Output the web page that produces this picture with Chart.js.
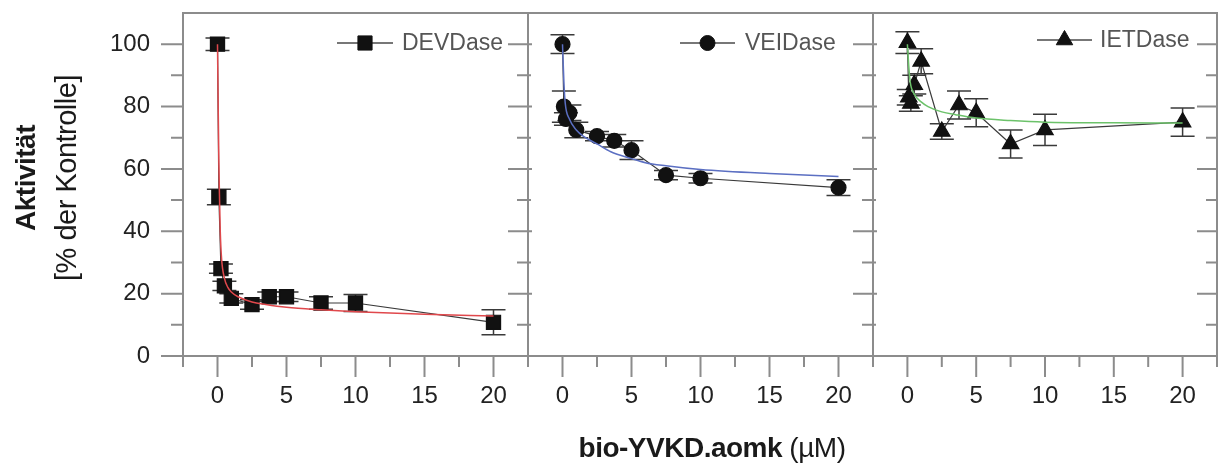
<!DOCTYPE html>
<html>
<head>
<meta charset="utf-8">
<script src="https://cdn.jsdelivr.net/npm/chart.js@4.4.1/dist/chart.umd.min.js"></script>
<style>
body { margin: 0; background: #fff; width: 1219px; height: 466px; overflow: hidden; position: relative;
       font-family: "Liberation Sans", Arial, sans-serif; }
canvas { position: absolute; top: 0; }
.lbl { position: absolute; white-space: nowrap; color: #1a1a1a; transform: translate(-50%, -50%); }
.rot { transform: translate(-50%, -50%) rotate(-90deg); }
</style>
</head>
<body>
<canvas id="c1" width="532" height="466" style="left:0px"></canvas>
<canvas id="c2" width="353" height="466" style="left:524px"></canvas>
<canvas id="c3" width="350" height="466" style="left:869px"></canvas>

<div class="lbl rot" style="left:26px; top:178px; font-weight:bold; font-size:28px; letter-spacing:-0.5px">Aktivität</div>
<div class="lbl rot" style="left:66px; top:178px; font-size:29px; letter-spacing:-0.5px">[% der Kontrolle]</div>
<div class="lbl" style="left:712px; top:448px; font-size:28px; letter-spacing:-0.5px"><b>bio-YVKD.aomk</b> (µM)</div>

<script>
// axis ticks
var xTicks = [0, 5, 10, 15, 20];
var xMinor = [-2.5, 2.5, 7.5, 12.5, 17.5, 22.5];
var yTicks = [0, 20, 40, 60, 80, 100];
var yMinor = [10, 30, 50, 70, 90];

// inhibitor concentration (µM)
var conc = [0, 0.1, 0.25, 0.5, 1, 2.5, 3.75, 5, 7.5, 10, 20];

// measured activity (% of control) and error
var devY   = [100, 51, 28, 22.5, 18.5, 16.5, 19, 19, 17, 17, 10.8];
var devErr = [2, 2.5, 1.5, 1.5, 1.5, 1.5, 1.5, 1.5, 2, 2.7, 4];
var veiY   = [100, 80, 76, 78, 72.5, 70.5, 69, 66, 58, 57, 54];
var veiErr = [3, 5, 2, 2.5, 2.5, 1.5, 2, 3, 1.5, 1.5, 2.5];
var ietY   = [100.5, 83, 81, 87, 94.5, 72, 80.5, 78, 68, 72.5, 75];
var ietErr = [3.5, 2.5, 2.5, 3, 4, 2.5, 4.5, 4.5, 4.5, 5, 4.5];

// fitted curves
var devFitX = [0, 0.05, 0.1, 0.15, 0.2, 0.3, 0.5, 0.75, 1, 1.5, 2.5, 3.5, 5, 7.5, 10, 15, 20];
var devFitY = [100, 80, 62, 50, 40, 31, 25, 22, 20.5, 19, 17.3, 16.5, 15.6, 14.8, 14.2, 13.4, 12.8];
var veiFitX = [0, 0.1, 0.2, 0.5, 1, 1.5, 2.5, 3.5, 5, 6, 7.5, 10, 15, 20];
var veiFitY = [100, 88, 81, 76, 72.5, 70.5, 68, 65.5, 63.3, 62, 61, 59.8, 58.5, 57.6];
var ietFitX = [0, 0.1, 0.2, 0.5, 1, 1.5, 2.5, 3.5, 5, 7.5, 10, 15, 20];
var ietFitY = [100, 93, 88, 84, 81.5, 80, 78.3, 77.4, 76.3, 75.5, 75, 74.8, 74.7];

var frameColor = '#8c8c8c';
var tickFont = { family: '"Liberation Sans", Arial, sans-serif', size: 24, lineHeight: 1 };

function pts(xs, ys) {
    return xs.map(function (x, i) { return { x: x, y: ys[i] }; });
}

var panelPlugin = {
    id: 'panel',
    beforeDatasetsDraw: function (chart, args, opts) {
        var ctx = chart.ctx, sx = chart.scales.x, sy = chart.scales.y;
        ctx.save();
        ctx.strokeStyle = '#3a3a3a';
        ctx.lineWidth = 1.5;
        opts.xs.forEach(function (x, i) {
            var px = sx.getPixelForValue(x);
            var top = sy.getPixelForValue(opts.ys[i] + opts.err[i]);
            var bot = sy.getPixelForValue(opts.ys[i] - opts.err[i]);
            ctx.beginPath();
            ctx.moveTo(px, top); ctx.lineTo(px, bot);
            ctx.moveTo(px - 12, top); ctx.lineTo(px + 12, top);
            ctx.moveTo(px - 12, bot); ctx.lineTo(px + 12, bot);
            ctx.stroke();
        });
        ctx.restore();
    },
    afterDraw: function (chart, args, opts) {
        var ctx = chart.ctx, a = chart.chartArea, sx = chart.scales.x, sy = chart.scales.y;
        ctx.save();
        ctx.strokeStyle = frameColor;
        ctx.lineWidth = 2;
        ctx.strokeRect(a.left, a.top, a.right - a.left, a.bottom - a.top);

        ctx.beginPath();
        xTicks.forEach(function (v) {
            var p = sx.getPixelForValue(v);
            ctx.moveTo(p, a.bottom); ctx.lineTo(p, a.bottom + 21);
        });
        xMinor.forEach(function (v) {
            var p = sx.getPixelForValue(v);
            ctx.moveTo(p, a.bottom); ctx.lineTo(p, a.bottom + 11);
        });
        yTicks.forEach(function (v) {
            var p = sy.getPixelForValue(v);
            ctx.moveTo(a.right, p); ctx.lineTo(a.right - 20, p);
            if (opts.leftAxis) { ctx.moveTo(a.left, p); ctx.lineTo(a.left - 22, p); }
            else { ctx.moveTo(a.left, p); ctx.lineTo(a.left + 4, p); }
        });
        yMinor.forEach(function (v) {
            var p = sy.getPixelForValue(v);
            ctx.moveTo(a.right, p); ctx.lineTo(a.right - 11, p);
            if (opts.leftAxis) { ctx.moveTo(a.left, p); ctx.lineTo(a.left - 12, p); }
            else { ctx.moveTo(a.left, p); ctx.lineTo(a.left + 3, p); }
        });
        ctx.stroke();

        // legend
        var lg = opts.legend;
        var ly = a.top + lg.y;
        ctx.strokeStyle = '#777';
        ctx.lineWidth = 2;
        ctx.beginPath();
        ctx.moveTo(a.right - lg.x1, ly); ctx.lineTo(a.right - lg.x2, ly);
        ctx.stroke();
        ctx.fillStyle = '#111';
        ctx.strokeStyle = '#111';
        ctx.lineWidth = 1;
        Chart.helpers.drawPoint(ctx, { pointStyle: lg.style, radius: lg.r, rotation: 0, borderWidth: 1 },
            a.right - (lg.x1 + lg.x2) / 2, ly);
        ctx.fillStyle = '#555';
        ctx.font = '23px "Liberation Sans", Arial, sans-serif';
        ctx.textBaseline = 'middle';
        ctx.textAlign = 'left';
        ctx.fillText(lg.label, a.right - lg.tx, ly + 1);
        ctx.restore();
    }
};

function makeChart(id, ys, errs, fitX, fitY, fitColor, style, radius, leftAxis, pad, legend) {
    return new Chart(document.getElementById(id), {
        type: 'scatter',
        data: {
            datasets: [
                {
                    data: pts(fitX, fitY),
                    showLine: true,
                    borderColor: fitColor,
                    borderWidth: 1.5,
                    pointRadius: 0,
                    cubicInterpolationMode: 'monotone',
                    order: 0
                },
                {
                    data: pts(conc, ys),
                    showLine: true,
                    borderColor: '#3a3a3a',
                    borderWidth: 1.2,
                    pointStyle: style,
                    pointRadius: radius,
                    pointBackgroundColor: '#111',
                    pointBorderColor: '#111',
                    order: 1
                }
            ]
        },
        options: {
            responsive: false,
            animation: false,
            layout: { padding: pad, autoPadding: false },
            plugins: {
                legend: { display: false },
                tooltip: { enabled: false },
                panel: { xs: conc, ys: ys, err: errs, leftAxis: leftAxis, legend: legend }
            },
            scales: {
                x: {
                    type: 'linear',
                    min: -2.5,
                    max: 22.5,
                    afterBuildTicks: function (s) { s.ticks = xTicks.map(function (v) { return { value: v }; }); },
                    afterFit: function (s) { s.height = 110; },
                    grid: { display: true, drawOnChartArea: false, drawTicks: true, tickLength: 28, tickColor: 'rgba(0,0,0,0)' },
                    border: { display: false },
                    ticks: { padding: 0, color: '#222', font: tickFont }
                },
                y: {
                    display: leftAxis,
                    min: 0,
                    max: 110,
                    afterBuildTicks: function (s) { s.ticks = yTicks.map(function (v) { return { value: v }; }); },
                    afterFit: function (s) { s.width = leftAxis ? 183 : 0; },
                    grid: { display: true, drawOnChartArea: false, drawTicks: true, tickLength: 33, tickColor: 'rgba(0,0,0,0)' },
                    border: { display: false },
                    ticks: { padding: 0, color: '#222', font: tickFont }
                }
            }
        },
        plugins: [panelPlugin]
    });
}

makeChart('c1', devY, devErr, devFitX, devFitY, '#e0484c', 'rect', 10, true,
    { top: 13, right: 4, left: 0, bottom: 0 },
    { x1: 191, x2: 135, tx: 126, y: 30, style: 'rect', r: 10, label: 'DEVDase' });
makeChart('c2', veiY, veiErr, veiFitX, veiFitY, '#5b6fc2', 'circle', 7.5, false,
    { top: 13, right: 4, left: 4, bottom: 0 },
    { x1: 193, x2: 138, tx: 128, y: 30, style: 'circle', r: 7.5, label: 'VEIDase' });
makeChart('c3', ietY, ietErr, ietFitX, ietFitY, '#6cc26a', 'triangle', 9.5, false,
    { top: 13, right: 2, left: 4, bottom: 0 },
    { x1: 180, x2: 125, tx: 117, y: 27, style: 'triangle', r: 9.5, label: 'IETDase' });
</script>
</body>
</html>
